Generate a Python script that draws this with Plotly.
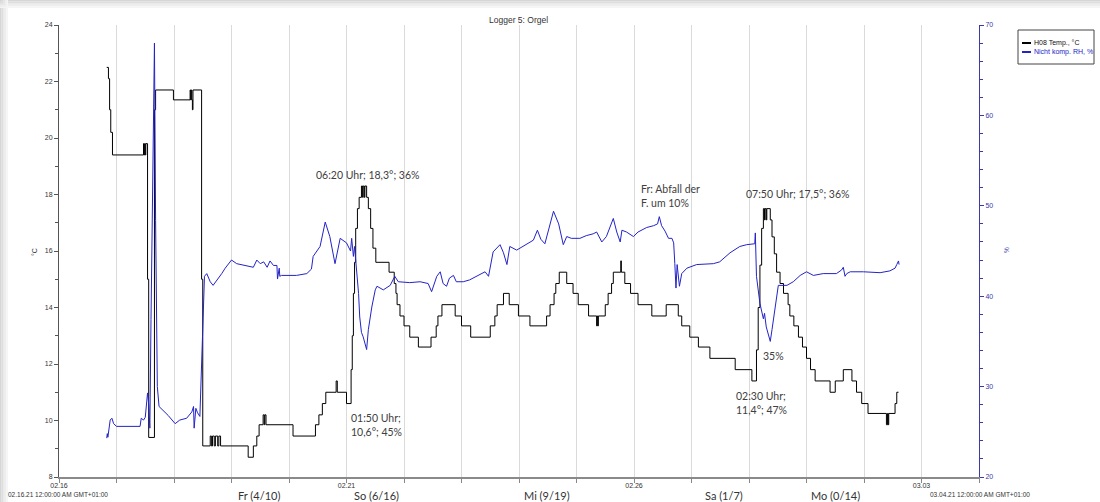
import pandas as pd
import plotly.graph_objects as go

# ---- Logger 5 (Orgel): time in days after 16.02.2021 00:00 ----
temp_days = [
    0.83, 0.86, 0.88, 0.90, 0.93,
    1.47, 1.48, 1.49, 1.50, 1.51, 1.54, 1.56, 1.66, 1.68,
    1.99, 2.28, 2.29, 2.30, 2.31, 2.32, 2.33, 2.48, 2.50,
    2.63, 2.65, 2.67, 2.70, 2.72, 2.76, 2.78, 2.81,
    3.29, 3.38, 3.44, 3.48, 3.55, 3.57, 3.58, 3.60,
    4.07, 4.46, 4.52, 4.58, 4.64, 4.82, 4.84, 5.00,
    5.08, 5.10, 5.12, 5.14, 5.16, 5.19, 5.22,
    5.26, 5.28, 5.29, 5.31, 5.32, 5.35,
    5.38, 5.42, 5.46, 5.51, 5.74, 5.83, 5.86, 5.88,
    5.93, 6.00, 6.10, 6.25, 6.47, 6.56, 6.59, 6.66,
    6.89, 7.00, 7.16, 7.50, 7.58, 7.62, 7.73, 7.83, 7.99, 8.19,
    8.48, 8.54, 8.61, 8.64, 8.70, 8.83, 8.94, 9.03, 9.21,
    9.35, 9.36, 9.37, 9.38, 9.50, 9.55, 9.61, 9.64, 9.77, 9.78, 9.84, 9.94,
    10.07, 10.31, 10.56, 10.77, 10.83, 10.97, 11.12, 11.32, 11.76, 12.05,
    12.13, 12.16, 12.19, 12.22, 12.25, 12.27, 12.28, 12.30, 12.31, 12.37,
    12.40, 12.44, 12.48, 12.54, 12.60, 12.68, 12.71, 12.78, 12.86, 12.93,
    13.00, 13.07, 13.15, 13.41, 13.50, 13.64, 13.79, 13.87, 13.96, 14.07,
    14.39, 14.41, 14.42, 14.43, 14.54, 14.57, 14.60,
]
temp_vals = [
    22.5, 22.1, 21.0, 20.2, 19.4,
    19.8, 19.4, 19.8, 19.4, 19.8, 15.0, 9.4, 21.0, 21.7,
    21.35, 21.7, 21.35, 21.7, 21.35, 21.0, 21.7, 15.0, 9.1,
    9.45, 9.1, 9.45, 9.1, 9.45, 9.1, 9.45, 9.1,
    8.7, 9.1, 9.45, 9.85, 10.2, 9.85, 10.2, 9.85,
    9.45, 9.85, 10.2, 10.6, 11.0, 11.4, 11.0, 10.6,
    11.8, 13.0, 14.5, 15.6, 16.8, 17.5, 17.9,
    18.3, 17.9, 18.3, 17.9, 18.3, 17.9,
    17.5, 16.8, 16.1, 15.6, 15.25, 14.85, 14.5, 14.1,
    13.7, 13.35, 12.95, 12.6, 12.95, 13.35, 13.7, 14.1,
    13.7, 13.35, 12.95, 13.35, 13.7, 14.1, 14.5, 14.1, 13.7, 13.35,
    13.7, 14.1, 14.5, 14.85, 15.25, 14.85, 14.5, 14.1, 13.7,
    13.35, 13.7, 13.35, 13.7, 14.1, 14.5, 14.85, 15.25, 15.65, 15.25, 14.85, 14.5,
    14.1, 13.7, 14.1, 13.7, 13.35, 12.95, 12.6, 12.2, 11.8, 11.4,
    12.5, 14.0, 15.5, 16.8, 17.5, 17.1, 17.5, 17.1, 17.5, 17.1,
    16.5, 15.9, 15.25, 14.85, 14.5, 14.1, 13.7, 13.35, 12.95, 12.6,
    12.2, 11.8, 11.4, 11.0, 11.4, 11.8, 11.4, 11.0, 10.6, 10.25,
    9.85, 10.25, 9.85, 10.25, 10.6, 11.0, 11.0,
]

rh_days = [
    0.83, 0.84, 0.85, 0.89, 0.92, 0.95, 1.00, 1.41, 1.43, 1.47, 1.50, 1.54,
    1.56, 1.58, 1.60, 1.63, 1.66, 1.68, 1.71, 1.74, 1.81, 1.90, 2.02, 2.10,
    2.22, 2.31, 2.34, 2.35, 2.38, 2.41, 2.45, 2.47, 2.50, 2.53, 2.57, 2.63,
    2.68, 2.77, 2.83, 2.89, 3.00, 3.09, 3.26, 3.38, 3.44, 3.50, 3.56, 3.62,
    3.67, 3.73, 3.79, 3.80, 3.83, 3.84, 3.87, 4.13, 4.31, 4.39, 4.42, 4.54,
    4.63, 4.71, 4.80, 4.89, 5.00, 5.07, 5.09, 5.12, 5.14, 5.17, 5.21, 5.23,
    5.26, 5.29, 5.32, 5.35, 5.38, 5.44, 5.50, 5.53, 5.64, 5.76, 5.84, 5.90,
    6.10, 6.28, 6.42, 6.48, 6.57, 6.63, 6.68, 6.74, 6.79, 6.86, 6.91, 7.03,
    7.14, 7.26, 7.41, 7.47, 7.55, 7.67, 7.73, 7.79, 7.84, 7.96, 8.13, 8.25,
    8.32, 8.38, 8.45, 8.51, 8.60, 8.69, 8.77, 8.83, 8.91, 9.06, 9.17, 9.29,
    9.35, 9.44, 9.52, 9.64, 9.70, 9.76, 9.79, 9.87, 9.99, 10.07, 10.22, 10.34,
    10.41, 10.44, 10.48, 10.54, 10.60, 10.66, 10.69, 10.71, 10.73, 10.75, 10.79, 10.83,
    10.92, 11.09, 11.38, 11.49, 11.67, 11.84, 11.96, 12.10, 12.11, 12.13, 12.19, 12.25,
    12.27, 12.30, 12.33, 12.37, 12.40, 12.46, 12.51, 12.66, 12.77, 12.89, 13.00, 13.12,
    13.29, 13.52, 13.61, 13.64, 13.67, 13.70, 13.76, 13.99, 14.28, 14.45, 14.54, 14.57,
    14.60, 14.61,
]
rh_vals = [
    24.3, 24.8, 24.4, 26.3, 26.5, 25.9, 25.6, 25.6, 26.5, 26.3, 26.6, 29.3,
    28.1, 25.4, 37.4, 55.8, 68.0, 48.4, 30.0, 27.8, 27.4, 26.8, 25.9, 26.3,
    26.5, 27.2, 27.8, 25.4, 27.6, 27.1, 26.7, 30.4, 37.4, 42.2, 42.5, 41.6,
    41.2, 41.9, 42.5, 43.1, 44.0, 43.6, 43.4, 43.2, 44.0, 43.6, 43.8, 43.2,
    43.9, 43.4, 43.4, 41.9, 43.1, 42.2, 42.3, 42.3, 42.5, 43.0, 44.4, 45.5,
    48.2, 46.6, 43.6, 46.4, 45.9, 45.0, 46.4, 44.4, 45.5, 43.6, 40.3, 37.7,
    36.0, 35.5, 34.8, 34.1, 36.3, 38.8, 40.7, 41.1, 40.7, 41.2, 42.2, 41.6,
    41.5, 41.6, 41.4, 40.5, 42.2, 42.7, 41.4, 41.1, 42.0, 42.3, 41.6, 41.6,
    41.8, 42.2, 42.7, 42.2, 44.9, 45.7, 44.8, 43.5, 45.5, 45.1, 45.7, 46.2,
    47.3, 46.3, 45.8, 47.3, 49.4, 48.0, 45.7, 46.6, 46.4, 46.4, 46.7, 46.9,
    47.1, 46.0, 46.6, 48.6, 47.1, 46.0, 47.3, 47.1, 46.6, 47.1, 47.6, 47.8,
    48.0, 48.8, 47.8, 47.2, 46.4, 46.4, 45.9, 43.6, 40.9, 43.5, 41.1, 42.5,
    43.1, 43.5, 43.6, 43.8, 44.8, 45.5, 45.7, 45.8, 47.0, 42.2, 39.2, 37.5,
    38.1, 36.6, 36.0, 35.0, 36.3, 38.9, 41.2, 41.2, 41.6, 42.3, 42.7, 42.3,
    42.5, 42.5, 42.9, 43.2, 42.2, 42.5, 42.7, 42.7, 42.6, 42.8, 43.1, 43.5,
    43.9, 43.5,
]

date_ticks = ["2021-02-16", "2021-02-21", "2021-02-26", "2021-03-03"]
date_tick_text = ["02.16", "02.21", "02.26", "03.03"]
weekday_labels = ["Fr (4/10)", "So (6/16)", "Mi (9/19)", "Sa (1/7)", "Mo (0/14)"]
weekday_days = [3.48, 5.52, 8.48, 11.57, 13.50]

start = pd.Timestamp("2021-02-16")
temp_t = start + pd.to_timedelta(temp_days, unit="D")
rh_t = start + pd.to_timedelta(rh_days, unit="D")
weekday_t = start + pd.to_timedelta(weekday_days, unit="D")

W, H = 1100, 502
L, R, T, B = 59, 121, 25, 25
PW, PH = W - L - R, H - T - B


def fx(px):
    return (px - L) / PW


def fy(py):
    return (H - B - py) / PH


BLUE = "#2323c8"
AXBLUE = "#3a3aa8"
TXT = "#404040"
SMALL = "Liberation Sans, Arial"
TICKFONT = dict(family=SMALL, size=7, color="#333333")
NOTEFONT = dict(family="Lato, Noto Sans", size=10.5, color=TXT)

fig = go.Figure()
fig.add_trace(go.Scatter(
    x=temp_t, y=temp_vals, mode="lines", line=dict(color="#000000", width=1, shape="hv"),
    name="H08 Temp., °C", yaxis="y",
))
fig.add_trace(go.Scatter(
    x=rh_t, y=rh_vals, mode="lines", line=dict(color=BLUE, width=1),
    name="Nicht komp. RH, %", yaxis="y2",
))

shapes = []
# soft frame along the top and left border
for i, c in enumerate(["#d6d6d6", "#dedede", "#e6e6e6", "#eeeeee", "#f5f5f5"]):
    shapes.append(dict(type="rect", xref="paper", yref="paper", layer="below",
                       x0=fx(0), x1=fx(W), y0=fy(i * 1.6), y1=fy((i + 1) * 1.6),
                       line=dict(width=0), fillcolor=c))
    shapes.append(dict(type="rect", xref="paper", yref="paper", layer="below",
                       x0=fx(i * 1.6), x1=fx((i + 1) * 1.6), y0=fy(H), y1=fy(0),
                       line=dict(width=0), fillcolor=c))

# legend box
shapes.append(dict(type="rect", xref="paper", yref="paper", x0=fx(1018), x1=fx(1094),
                   y0=fy(64), y1=fy(30), line=dict(color="#444444", width=1),
                   fillcolor="white"))
shapes.append(dict(type="line", xref="paper", yref="paper", x0=fx(1022), x1=fx(1031),
                   y0=fy(43), y1=fy(43), line=dict(color="#000000", width=2)))
shapes.append(dict(type="line", xref="paper", yref="paper", x0=fx(1022), x1=fx(1031),
                   y0=fy(52), y1=fy(52), line=dict(color=BLUE, width=2)))

annotations = [
    dict(text="Logger 5: Orgel", x=fx(518), y=fy(20), font=dict(family=SMALL, size=8.5, color="#333333")),
    dict(text="°C", x=fx(34), y=fy(252), textangle=-90, font=dict(family=SMALL, size=7, color="#333333")),
    dict(text="%", x=fx(1006), y=fy(250), textangle=-90, font=dict(family=SMALL, size=6.5, color=AXBLUE)),
    dict(text="H08 Temp., °C", x=fx(1032), y=fy(43), xanchor="left",
         font=dict(family=SMALL, size=7, color="#111111")),
    dict(text="Nicht komp. RH, %", x=fx(1032), y=fy(52), xanchor="left",
         font=dict(family=SMALL, size=7, color=BLUE)),
    dict(text="02.16.21 12:00:00 AM GMT+01:00", x=fx(6), y=fy(494), xanchor="left",
         font=dict(family=SMALL, size=6.5, color="#333333")),
    dict(text="03.04.21 12:00:00 AM GMT+01:00", x=fx(928), y=fy(494), xanchor="left",
         font=dict(family=SMALL, size=6.5, color="#333333")),
    # remarks on the curves
    dict(text="06:20 Uhr; 18,3°; 36%", x=fx(367), y=fy(175), font=NOTEFONT),
    dict(text="01:50 Uhr;<br>10,6°; 45%", x=fx(349), y=fy(425), xanchor="left", align="left", font=NOTEFONT),
    dict(text="Fr: Abfall der<br>F. um 10%", x=fx(639), y=fy(196), xanchor="left", align="left", font=NOTEFONT),
    dict(text="07:50 Uhr; 17,5°; 36%", x=fx(797), y=fy(194), font=NOTEFONT),
    dict(text="35%", x=fx(773), y=fy(356), font=NOTEFONT),
    dict(text="02:30 Uhr;<br>11,4°; 47%", x=fx(734), y=fy(403), xanchor="left", align="left", font=NOTEFONT),
]
for lbl, t in zip(weekday_labels, weekday_t):
    annotations.append(dict(text=lbl, x=t, xref="x", y=fy(495), yref="paper",
                            font=dict(family="Lato, Noto Sans", size=11, color="#333333")))

for a in annotations:
    a.setdefault("xref", "paper")
    a.setdefault("yref", "paper")
    a.setdefault("xanchor", "center")
    a.setdefault("yanchor", "middle")
    a.setdefault("showarrow", False)

fig.update_layout(
    width=W, height=H,
    margin=dict(l=L, r=R, t=T, b=B, autoexpand=False),
    paper_bgcolor="white", plot_bgcolor="white",
    showlegend=False,
    shapes=shapes, annotations=annotations,
    xaxis=dict(
        type="date", range=["2021-02-16", "2021-03-04"], automargin=False,
        tickvals=date_ticks, ticktext=date_tick_text, tickfont=TICKFONT,
        ticks="outside", ticklen=4, tickcolor="#888888", ticklabelstandoff=-3,
        showgrid=True, gridcolor="#dadada", gridwidth=1,
        minor=dict(dtick=86400000, tick0="2021-02-16", showgrid=True, gridcolor="#dadada",
                   ticks="outside", ticklen=4, tickcolor="#888888"),
        showline=True, linecolor="#8a8a8a", linewidth=2, zeroline=False,
    ),
    yaxis=dict(
        range=[8, 24], tickvals=list(range(8, 25, 2)), tickfont=TICKFONT, automargin=False,
        ticks="outside", ticklen=4, tickcolor="#555555",
        minor=dict(dtick=1, ticks="outside", ticklen=3, tickcolor="#555555"),
        showline=True, linecolor="#555555", linewidth=1, showgrid=False, zeroline=False,
    ),
    yaxis2=dict(
        range=[20, 70], tickvals=list(range(20, 71, 10)), overlaying="y", side="right",
        anchor="x", automargin=False,
        tickfont=dict(family=SMALL, size=7, color=AXBLUE),
        ticks="outside", ticklen=4, tickcolor=AXBLUE,
        minor=dict(dtick=2, ticks="outside", ticklen=3, tickcolor=AXBLUE),
        showline=True, linecolor=AXBLUE, linewidth=1, showgrid=False, zeroline=False,
    ),
)

fig.write_html("out.html")
